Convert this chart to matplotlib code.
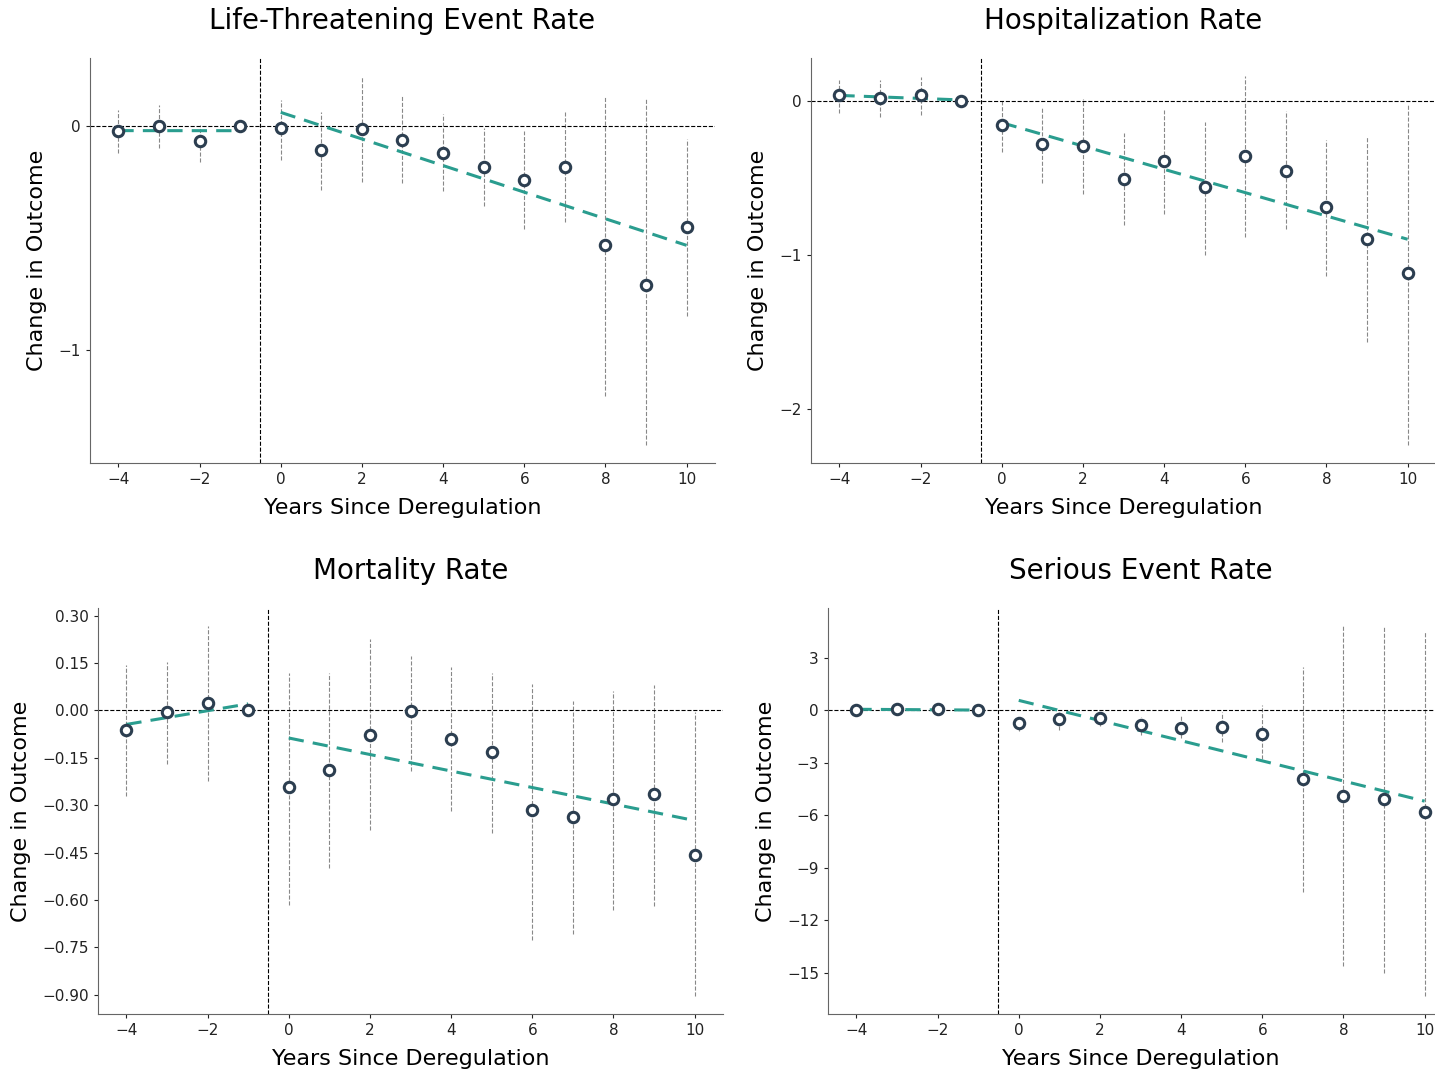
import numpy as np
import matplotlib.pyplot as plt

# ---- data ----
years = [-4, -3, -2, -1, 0, 1, 2, 3, 4, 5, 6, 7, 8, 9, 10]

titles = ["Life-Threatening Event Rate", "Hospitalization Rate",
          "Mortality Rate", "Serious Event Rate"]

life_est = [-0.022, 0.0, -0.067, 0.0, -0.01, -0.107, -0.013, -0.063, -0.12,
            -0.183, -0.241, -0.183, -0.531, -0.71, -0.451]
life_hi = [0.071, 0.094, 0.004, 0.0, 0.116, 0.063, 0.22, 0.134, 0.05,
           -0.009, -0.022, 0.06, 0.134, 0.125, -0.058]
life_lo = [-0.12, -0.098, -0.16, 0.0, -0.152, -0.286, -0.25, -0.254, -0.29,
           -0.36, -0.46, -0.43, -1.205, -1.424, -0.848]

hosp_est = [0.039, 0.02, 0.039, 0.0, -0.156, -0.28, -0.293, -0.502, -0.391,
            -0.56, -0.358, -0.45, -0.69, -0.899, -1.12]
hosp_hi = [0.137, 0.137, 0.156, 0.0, 0.007, -0.033, 0.013, -0.208, -0.059,
           -0.137, 0.163, -0.065, -0.248, -0.228, -0.02]
hosp_lo = [-0.078, -0.104, -0.091, 0.0, -0.332, -0.534, -0.606, -0.808, -0.73,
           -0.997, -0.886, -0.834, -1.134, -1.57, -2.235]

mort_est = [-0.063, -0.006, 0.022, 0.0, -0.244, -0.19, -0.079, -0.003, -0.092,
            -0.133, -0.314, -0.336, -0.282, -0.266, -0.459]
mort_hi = [0.143, 0.155, 0.266, 0.0, 0.12, 0.12, 0.225, 0.174, 0.139,
           0.117, 0.085, 0.029, 0.063, 0.082, -0.006]
mort_lo = [-0.272, -0.171, -0.225, 0.0, -0.615, -0.50, -0.38, -0.193, -0.32,
           -0.387, -0.726, -0.707, -0.631, -0.618, -0.903]

ser_est = [0.05, 0.06, 0.06, 0.0, -0.7, -0.5, -0.46, -0.86, -0.98,
           -0.92, -1.32, -3.9, -4.88, -5.05, -5.8]
ser_hi = [0.15, 0.16, 0.16, 0.0, -0.4, -0.1, -0.1, -0.4, -0.3,
          -0.1, 0.3, 2.47, 4.8, 4.76, 4.5]
ser_lo = [-0.05, -0.04, -0.04, 0.0, -1.2, -1.1, -0.9, -1.4, -1.6,
          -1.8, -2.8, -10.4, -14.6, -15.0, -16.3]

yticks = [[0, -1], [0, -1, -2],
          [0.30, 0.15, 0.00, -0.15, -0.30, -0.45, -0.60, -0.75, -0.90],
          [3, 0, -3, -6, -9, -12, -15]]
ytick_fmt = ["{:.0f}", "{:.0f}", "{:.2f}", "{:.0f}"]

panels = [(life_est, life_lo, life_hi), (hosp_est, hosp_lo, hosp_hi),
          (mort_est, mort_lo, mort_hi), (ser_est, ser_lo, ser_hi)]

# axes boxes in pixels: left, top, width, height
W, H = 1435, 1070
boxes = [(90, 58, 625, 405), (811, 58, 625, 405),
         (98, 608, 625, 406), (828, 608, 625, 406)]

teal = "#2a9d8f"
dark = "#2c3e50"

fig = plt.figure(figsize=(W / 100, H / 100), dpi=100)
x = np.array(years)

for i, (est, lo, hi) in enumerate(panels):
    l, t, w, h = boxes[i]
    ax = fig.add_axes([l / W, 1 - (t + h) / H, w / W, h / H])
    est = np.array(est)

    ax.vlines(x, lo, hi, colors="#888888", linestyles="--", linewidth=0.8)
    ax.axhline(0, color="black", linestyle="--", linewidth=0.8)
    ax.axvline(-0.5, color="black", linestyle="--", linewidth=0.8)

    # trend lines fitted to pre and post periods
    for mask in (x < 0, x >= 0):
        b = np.polyfit(x[mask], est[mask], 1)
        xs = x[mask][[0, -1]]
        ax.plot(xs, np.polyval(b, xs), color=teal, linestyle=(0, (5, 3)),
                linewidth=2.2, zorder=3)

    ax.plot(x, est, "o", markersize=7.5, markerfacecolor="white",
            markeredgecolor=dark, markeredgewidth=2.2, zorder=4)

    ax.set_yticks(yticks[i])
    ax.set_yticklabels([ytick_fmt[i].format(v).replace("-", "\u2212")
                        for v in yticks[i]])
    ax.set_xticks([-4, -2, 0, 2, 4, 6, 8, 10])
    ax.tick_params(labelsize=11, colors="#222222", length=3)

    for s in ("top", "right"):
        ax.spines[s].set_visible(False)
    for s in ("left", "bottom"):
        ax.spines[s].set_color("#666666")

    ax.set_title(titles[i], fontsize=20, pad=21)
    ax.set_xlabel("Years Since Deregulation", fontsize=16, labelpad=8)
    ax.set_ylabel("Change in Outcome", fontsize=16, labelpad=8)

fig.savefig("out.png", dpi=100)
